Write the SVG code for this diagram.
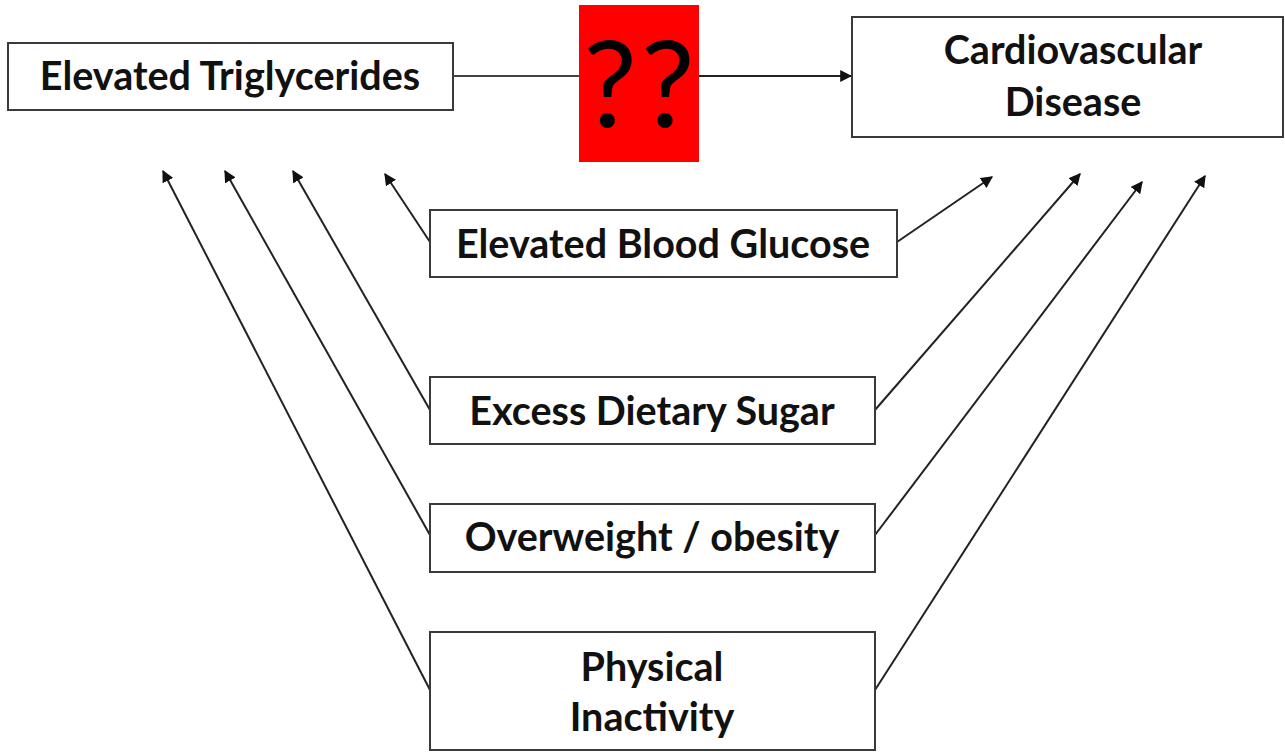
<svg xmlns="http://www.w3.org/2000/svg" width="1285" height="752" viewBox="0 0 1285 752">
<style>
.box{fill:#fff;stroke:#3a3a3a;stroke-width:2}
.lbl{font-family:Lato,"Liberation Sans",sans-serif;font-weight:bold;font-size:39.5px;fill:#111;text-anchor:middle}
.q{font-family:Lato,"Liberation Sans",sans-serif;font-size:120px;fill:#000;text-anchor:middle;letter-spacing:4px}
.c{stroke:#222;stroke-width:2;fill:none;marker-end:url(#ah)}
</style>
<defs>
<marker id="ah" viewBox="0 0 10 10" refX="9" refY="5" markerWidth="6" markerHeight="6" orient="auto" markerUnits="strokeWidth">
<path d="M0,0 L10,5 L0,10 z" fill="#111"/>
</marker>
</defs>
<rect width="1285" height="752" fill="#fff"/>
<g id="connectors">
<line x1="453" y1="76" x2="580" y2="76" stroke="#444" stroke-width="2"/>
<line class="c" x1="699" y1="76" x2="851" y2="76"/>
<line class="c" x1="430" y1="242" x2="385" y2="174"/>
<line class="c" x1="430" y1="410" x2="293" y2="171"/>
<line class="c" x1="430" y1="535" x2="225" y2="171"/>
<line class="c" x1="430" y1="690" x2="163" y2="171"/>
<line class="c" x1="897" y1="242" x2="992" y2="177"/>
<line class="c" x1="875" y1="410" x2="1080" y2="174"/>
<line class="c" x1="875" y1="535" x2="1142" y2="182"/>
<line class="c" x1="875" y1="690" x2="1205" y2="176"/>
</g>
<g id="triglycerides">
<rect class="box" x="8" y="43" width="445" height="67"/>
<text class="lbl" x="230" y="90">Elevated Triglycerides</text>
</g>
<g id="unknown">
<rect x="579" y="5" width="120" height="157" fill="#ff0000"/>
<text class="q" x="641" y="127">??</text>
</g>
<g id="cvd">
<rect class="box" x="852" y="17" width="431" height="120"/>
<text class="lbl" x="1073" y="64">Cardiovascular</text>
<text class="lbl" x="1073" y="116">Disease</text>
</g>
<g id="glucose">
<rect class="box" x="430" y="210" width="467" height="67"/>
<text class="lbl" x="663" y="258">Elevated Blood Glucose</text>
</g>
<g id="sugar">
<rect class="box" x="430" y="377" width="445" height="67"/>
<text class="lbl" x="652" y="425">Excess Dietary Sugar</text>
</g>
<g id="obesity">
<rect class="box" x="430" y="504" width="445" height="68"/>
<text class="lbl" x="652" y="551">Overweight / obesity</text>
</g>
<g id="inactivity">
<rect class="box" x="430" y="632" width="445" height="118"/>
<text class="lbl" x="652" y="681">Physical</text>
<text class="lbl" x="652" y="731">Inactivity</text>
</g>
</svg>
